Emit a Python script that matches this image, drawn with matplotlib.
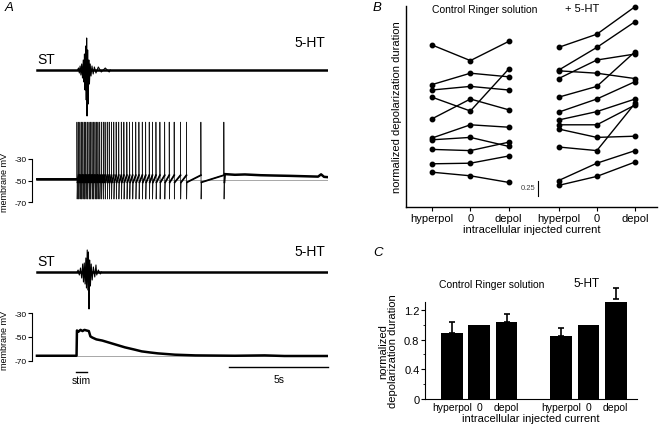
import numpy as np
import matplotlib.pyplot as plt

plt.rcParams['font.family'] = ['Liberation Sans', 'DejaVu Sans']

#%% DATA
# panel A, time in s, membrane in mV, ST (extracellular) in arbitrary units
t_end = 14.7
stim_on, stim_off = 1.97, 2.53

st1_burst_t = [2.10, 2.14, 2.18, 2.22, 2.26, 2.30, 2.34, 2.37, 2.40, 2.43, 2.46, 2.49, 2.51, 2.53,
               2.56, 2.59, 2.62, 2.65, 2.69, 2.73, 2.78, 2.84, 2.90, 2.98, 3.10, 3.25, 3.45, 3.65]
st1_burst_v = [2, -3, 4, -5, 6, -8, 10, -12, 16, -20, 24, -30, 32, -46,
               20, -34, 10, -14, 6, -6, 4, -4, 3, -3, 3, -2, 2, -2]

st2_burst_t = [2.08, 2.14, 2.20, 2.26, 2.31, 2.35, 2.39, 2.43, 2.47, 2.50, 2.54, 2.57, 2.60, 2.63,
               2.66, 2.70, 2.74, 2.79, 2.85, 2.92, 2.98, 3.02, 3.10, 3.20]
st2_burst_v = [2, -3, 4, -6, 8, -10, 9, -12, 14, -16, 22, -18, 20, -37,
               12, -14, 8, -8, 5, -5, 7, -3, 2, -2]

vm1_rest = -48.5
vm1_spike_t = [2.02, 2.10, 2.17, 2.25, 2.32, 2.40, 2.47, 2.55, 2.63, 2.70, 2.78, 2.85, 2.93, 3.01,
               3.08, 3.17, 3.26, 3.35, 3.44, 3.55, 3.65, 3.76, 3.88, 4.00, 4.13, 4.26, 4.39, 4.54,
               4.68, 4.83, 4.99, 5.15, 5.32, 5.49, 5.67, 5.83, 6.01, 6.21, 6.45, 6.68, 6.93, 7.25,
               7.55, 8.28, 9.44]
spike_peak, spike_trough = 4.0, -67.0
spike_thresh, spike_ahp = -45.0, -51.5
vm1_post_t = [9.50, 10.0, 10.5, 11.3, 12.0, 12.8, 13.6, 14.2, 14.35, 14.5, 14.7]
vm1_post_v = [-44.0, -44.6, -44.3, -45.0, -45.3, -45.6, -46.0, -46.3, -44.2, -46.5, -46.8]

vm2_t = [0, 2.00, 2.02, 2.10, 2.20, 2.30, 2.40, 2.50, 2.62, 2.70, 2.80, 3.00, 3.30, 3.60, 4.00,
         4.44, 4.90, 5.29, 5.70, 6.11, 6.97, 8.00, 10.0, 11.5, 12.5, 14.7]
vm2_v = [-65.8, -65.8, -44.5, -45.5, -44.0, -45.0, -44.0, -44.5, -45.0, -49.5, -50.5, -52.0, -53.0,
         -54.5, -56.5, -58.7, -60.5, -62.1, -63.0, -63.8, -64.9, -65.5, -65.8, -65.5, -66.0, -66.0]

# panel B, normalized depolarization duration (offset for display)
current_labels = ['hyperpol', '0', 'depol']
ctrl_lines = [[2.70, 2.44, 2.76],
              [2.04, 2.23, 2.17],
              [1.95, 2.01, 1.95],
              [1.83, 1.60, 2.30],
              [1.47, 1.80, 1.62],
              [1.15, 1.37, 1.33],
              [1.12, 1.16, 1.01],
              [0.96, 0.94, 1.08],
              [0.72, 0.73, 0.85],
              [0.58, 0.52, 0.41]]
ht_lines = [[2.66, 2.88, 3.34],
            [2.28, 2.66, 3.09],
            [2.27, 2.23, 2.14],
            [2.14, 2.45, 2.55],
            [1.83, 2.01, 2.59],
            [1.58, 1.80, 2.09],
            [1.45, 1.59, 1.80],
            [1.37, 1.37, 1.70],
            [1.30, 1.16, 1.18],
            [1.00, 0.94, 1.73],
            [0.44, 0.73, 0.94],
            [0.36, 0.51, 0.75]]

# panel C, means and upper errors
c_ctrl_mean = [0.89, 1.00, 1.03]
c_ctrl_err = [0.15, 0.0, 0.115]
c_ht_mean = [0.85, 1.00, 1.34]
c_ht_err = [0.11, 0.0, 0.155]

#%% FIGURE
fig = plt.figure(figsize=(6.61, 4.27), dpi=100)
W, H = 661.0, 427.0

def px_axes(x0, y0, x1, y1):
    return fig.add_axes([x0 / W, 1 - y1 / H, (x1 - x0) / W, (y1 - y0) / H])

xl = (-0.25, t_end)

# ST traces
def st_axes(y0, y1, ylim, burst_t, burst_v, ylab_st, ylab_ht):
    ax = px_axes(32, y0, 328, y1)
    ax.set_xlim(xl)
    ax.set_ylim(ylim)
    ax.axis('off')
    ax.plot([0, t_end], [0, 0], color='k', lw=1.8)
    ax.plot([burst_t[0] - 0.05] + burst_t + [burst_t[-1] + 0.05],
            [0] + burst_v + [0], color='k', lw=0.8)
    ax.text(0.0, ylab_st, 'ST', fontsize=10, ha='left', va='center')
    ax.text(t_end - 0.15, ylab_ht, '5-HT', fontsize=10, ha='right', va='center')
    return ax

st_axes(37, 119, (-48, 34), st1_burst_t, st1_burst_v, 11, 28)
st_axes(245, 315, (-42, 28), st2_burst_t, st2_burst_v, 11, 21)

def vm_style(ax, ylim, label_y):
    ax.set_xlim(xl)
    ax.set_ylim(ylim)
    for s in ['top', 'right', 'bottom']:
        ax.spines[s].set_visible(False)
    ax.spines['left'].set_bounds(-70, -30)
    ax.spines['left'].set_linewidth(0.8)
    ax.set_xticks([])
    ax.set_yticks([-70, -50, -30])
    ax.set_yticklabels(['-70', '-50', '-30'])
    ax.tick_params(axis='y', length=3, width=0.8, labelsize=6, pad=1)
    ax.set_ylabel('membrane mV', fontsize=6.5)
    ax.yaxis.set_label_coords(-0.079, label_y)
    ax.patch.set_alpha(0)

# membrane trace 1 (spiking)
ax = px_axes(32, 120, 328, 206)
vm_style(ax, (-72.5, 6.9), 0.27)
ax.plot([stim_on + 0.03, t_end], [-49, -49], color='0.6', lw=0.6)
tt, vv = [0, vm1_spike_t[0]], [vm1_rest, vm1_rest]
base_t, base_v = [0, vm1_spike_t[0]], [vm1_rest, vm1_rest]
for i, ts in enumerate(vm1_spike_t):
    tt += [ts, ts, ts + 0.01, ts + 0.03]
    vv += [spike_thresh, spike_peak, spike_trough, spike_ahp]
    nxt = vm1_spike_t[i + 1] if i + 1 < len(vm1_spike_t) else vm1_post_t[0]
    base_t += [np.nan, ts + 0.03, nxt]
    base_v += [np.nan, spike_ahp, spike_thresh if i + 1 < len(vm1_spike_t) else vm1_post_v[0]]
tt += vm1_post_t
vv += vm1_post_v
ax.plot(tt, vv, color='0.1', lw=0.55)
ax.plot(base_t, base_v, color='k', lw=1.3)
ax.plot(vm1_post_t, vm1_post_v, color='k', lw=1.8)
ax.plot([0, vm1_spike_t[0]], [vm1_rest, vm1_rest], color='k', lw=1.8)

# membrane trace 2 (plateau)
ax = px_axes(32, 312, 328, 364)
vm_style(ax, (-71.9, -28.1), 0.46)
ax.plot([stim_on + 0.03, t_end], [vm2_v[0], vm2_v[0]], color='0.6', lw=0.6)
ax.plot(vm2_t, vm2_v, color='k', lw=1.8)
# stim and time scale bars
ax.plot([stim_on, stim_off], [-79.5, -79.5], color='k', lw=1.0, clip_on=False)
ax.text((stim_on + stim_off) / 2, -86.3, 'stim', fontsize=7.5, ha='center', va='center')
ax.plot([t_end - 5, t_end], [-75.3, -75.3], color='k', lw=1.0, clip_on=False)
ax.text(t_end - 2.45, -85.4, '5s', fontsize=7.5, ha='center', va='center')

fig.text(5 / W, 1 - 8 / H, 'A', fontsize=9.5, style='italic', va='center', ha='left')
fig.text(373 / W, 1 - 8 / H, 'B', fontsize=9.5, style='italic', va='center', ha='left')
fig.text(373 / W, 1 - 253 / H, 'C', fontsize=9.5, style='italic', va='center', ha='left')

#%% PANEL B
axb = px_axes(406, 7, 657, 208)
gap_b = 3.3
pos_ctrl = np.arange(3)
pos_ht = np.arange(3) + gap_b
for row in ctrl_lines:
    axb.plot(pos_ctrl, row, '-o', color='k', ms=3.2, lw=1.0, clip_on=False)
for row in ht_lines:
    axb.plot(pos_ht, row, '-o', color='k', ms=3.2, lw=1.0, clip_on=False)
axb.set_xlim(-0.68, 5.87)
axb.set_ylim(0, 3.35)
axb.spines['top'].set_visible(False)
axb.spines['right'].set_visible(False)
axb.spines['left'].set_linewidth(1.0)
axb.spines['bottom'].set_linewidth(1.0)
axb.set_yticks([])
axb.set_xticks(np.concatenate([pos_ctrl, pos_ht]))
axb.set_xticklabels(current_labels * 2, fontsize=8)
axb.tick_params(axis='x', length=3, width=0.8, pad=1)
axb.set_xlabel('intracellular injected current', fontsize=8, labelpad=1)
axb.set_ylabel('normalized depolarization duration', fontsize=8, labelpad=3)
axb.text(1.38, 3.30, 'Control Ringer solution', fontsize=7.5, ha='center', va='center')
axb.text(3.91, 3.32, '+ 5-HT', fontsize=8, ha='center', va='center')
# 0.25 scale bar
axb.plot([2.77, 2.77], [0.18, 0.43], color='k', lw=0.8)
axb.text(2.69, 0.33, '0.25', fontsize=5.5, ha='right', va='center', color='0.25')

#%% PANEL C
axc = px_axes(425, 302.7, 637, 400)
gap_c = 4
cpos_ctrl = np.arange(3)
cpos_ht = np.arange(3) + gap_c
err_kw = dict(fmt='none', ecolor='k', elinewidth=1.2, capthick=1.2, capsize=2, clip_on=False)
for pos, mean, err in [(cpos_ctrl, c_ctrl_mean, c_ctrl_err), (cpos_ht, c_ht_mean, c_ht_err)]:
    axc.bar(pos, mean, width=0.8, color='k')
    mean = np.array(mean)
    err = np.array(err)
    m = err > 0
    axc.errorbar(pos[m], mean[m], yerr=[np.zeros(m.sum()), err[m]], **err_kw)
axc.set_xlim(-0.99, 6.78)
axc.set_ylim(0, 1.31)
axc.spines['top'].set_visible(False)
axc.spines['right'].set_visible(False)
axc.set_yticks([0, 0.4, 0.8, 1.2])
axc.set_yticklabels(['0', '0.4', '0.8', '1.2'], fontsize=8)
axc.set_yticks([0.2, 0.6, 1.0], minor=True)
axc.tick_params(axis='y', which='major', length=3, width=0.8, pad=1)
axc.tick_params(axis='y', which='minor', length=1.5, width=0.6)
axc.set_xticks(np.concatenate([cpos_ctrl, cpos_ht]))
axc.set_xticklabels(current_labels * 2, fontsize=7.5)
axc.tick_params(axis='x', length=0, pad=2)
axc.set_xlabel('intracellular injected current', fontsize=8, labelpad=1)
axc.set_ylabel('normalized\ndepolarization duration', fontsize=8, labelpad=4, linespacing=1.0)
axc.text(1.47, 1.55, 'Control Ringer solution', fontsize=7.5, ha='center', va='center', clip_on=False)
axc.text(4.93, 1.56, '5-HT', fontsize=8.5, ha='center', va='center', clip_on=False)

fig.savefig('out.png', dpi=100)
